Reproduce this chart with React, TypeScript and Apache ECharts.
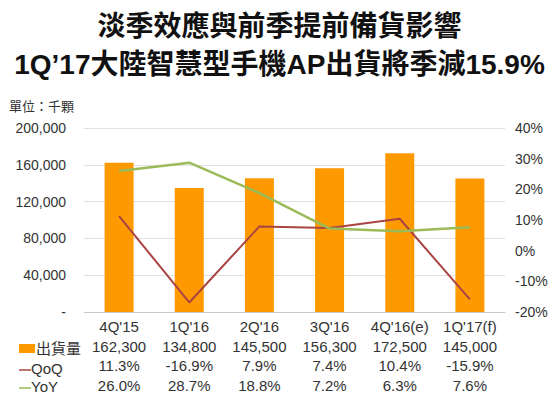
import React, { useEffect, useRef } from "react";
import * as echarts from "echarts";

const categories = ["4Q'15", "1Q'16", "2Q'16", "3Q'16", "4Q'16(e)", "1Q'17(f)"];
const shipments = [162300, 134800, 145500, 156300, 172500, 145000];
const qoq = [11.3, -16.9, 7.9, 7.4, 10.4, -15.9];
const yoy = [26.0, 28.7, 18.8, 7.2, 6.3, 7.6];
const leftTicks = { min: 0, max: 200000, interval: 40000 };
const rightTicks = { min: -20, max: 40, interval: 10 };

const FONT = "'Liberation Sans', 'Noto Sans CJK TC', Arial, sans-serif";
const ORANGE = "#ff9900";
const RED = "#a94442";
const GREEN = "#9bbb59";

export default function App() {
  const ref = useRef<HTMLDivElement>(null);
  useEffect(() => {
    if (!ref.current) return;
    const chart = echarts.init(ref.current, undefined, { renderer: "svg" });
    const fmt = (n: number) => n.toLocaleString("en-US");
    chart.setOption({
      animation: false,
      backgroundColor: "#ffffff",
      textStyle: { fontFamily: FONT },
      title: {
        text: "淡季效應與前季提前備貨影響\n1Q’17大陸智慧型手機AP出貨將季減15.9%",
        left: "center",
        top: 2,
        textStyle: { fontSize: 28, fontWeight: "bold", color: "#111", lineHeight: 38, fontFamily: FONT },
      },
      grid: { left: 84, right: 54, top: 128, height: 191 },
      xAxis: {
        type: "category",
        data: categories,
        axisLine: { lineStyle: { color: "#c8c8c8" } },
        axisTick: { show: false },
        axisLabel: {
          interval: 0,
          margin: 5,
          color: "#333",
          fontSize: 15,
          lineHeight: 19.5,
          verticalAlign: "top",
          formatter: (v: string, i: number) =>
            `${v}\n${fmt(shipments[i])}\n${qoq[i].toFixed(1)}%\n${yoy[i].toFixed(1)}%`,
        },
      },
      yAxis: [
        {
          type: "value",
          ...leftTicks,
          axisLine: { show: false },
          axisTick: { show: false },
          splitLine: { lineStyle: { color: "#e0e0e0" } },
          axisLabel: {
            margin: 18,
            color: "#333",
            fontSize: 14,
            formatter: (v: number) => (v === 0 ? "-" : fmt(v)),
          },
        },
        {
          type: "value",
          ...rightTicks,
          axisLine: { show: false },
          axisTick: { show: false },
          splitLine: { show: false },
          axisLabel: { margin: 10, color: "#333", fontSize: 14, formatter: (v: number) => `${v}%` },
        },
      ],
      series: [
        {
          name: "出貨量",
          type: "bar",
          data: shipments,
          barWidth: 29,
          itemStyle: { color: ORANGE },
        },
        {
          name: "QoQ",
          type: "line",
          yAxisIndex: 1,
          data: qoq,
          showSymbol: false,
          lineStyle: { color: RED, width: 2 },
        },
        {
          name: "YoY",
          type: "line",
          yAxisIndex: 1,
          data: yoy,
          showSymbol: false,
          lineStyle: { color: GREEN, width: 2.5 },
        },
      ],
      graphic: [
        { type: "text", left: 9, top: 100, style: { text: "單位：千顆", fontSize: 13, fill: "#333", fontFamily: FONT } },
        { type: "rect", shape: { x: 19, y: 344, width: 16, height: 9 }, style: { fill: ORANGE } },
        { type: "text", left: 36, top: 341, style: { text: "出貨量", fontSize: 15, fill: "#333", fontFamily: FONT } },
        { type: "line", shape: { x1: 19, y1: 370, x2: 31, y2: 370 }, style: { stroke: RED, lineWidth: 1.5 } },
        { type: "text", left: 31, top: 361, style: { text: "QoQ", fontSize: 15, fill: "#333", fontFamily: FONT } },
        { type: "line", shape: { x1: 19, y1: 388, x2: 31, y2: 388 }, style: { stroke: GREEN, lineWidth: 1.5 } },
        { type: "text", left: 31, top: 379, style: { text: "YoY", fontSize: 15, fill: "#333", fontFamily: FONT } },
      ],
    });
    return () => chart.dispose();
  }, []);
  return (
    <div
      ref={ref}
      style={{ position: "fixed", left: 0, top: 0, width: 559, height: 395, background: "#fff" }}
    />
  );
}
